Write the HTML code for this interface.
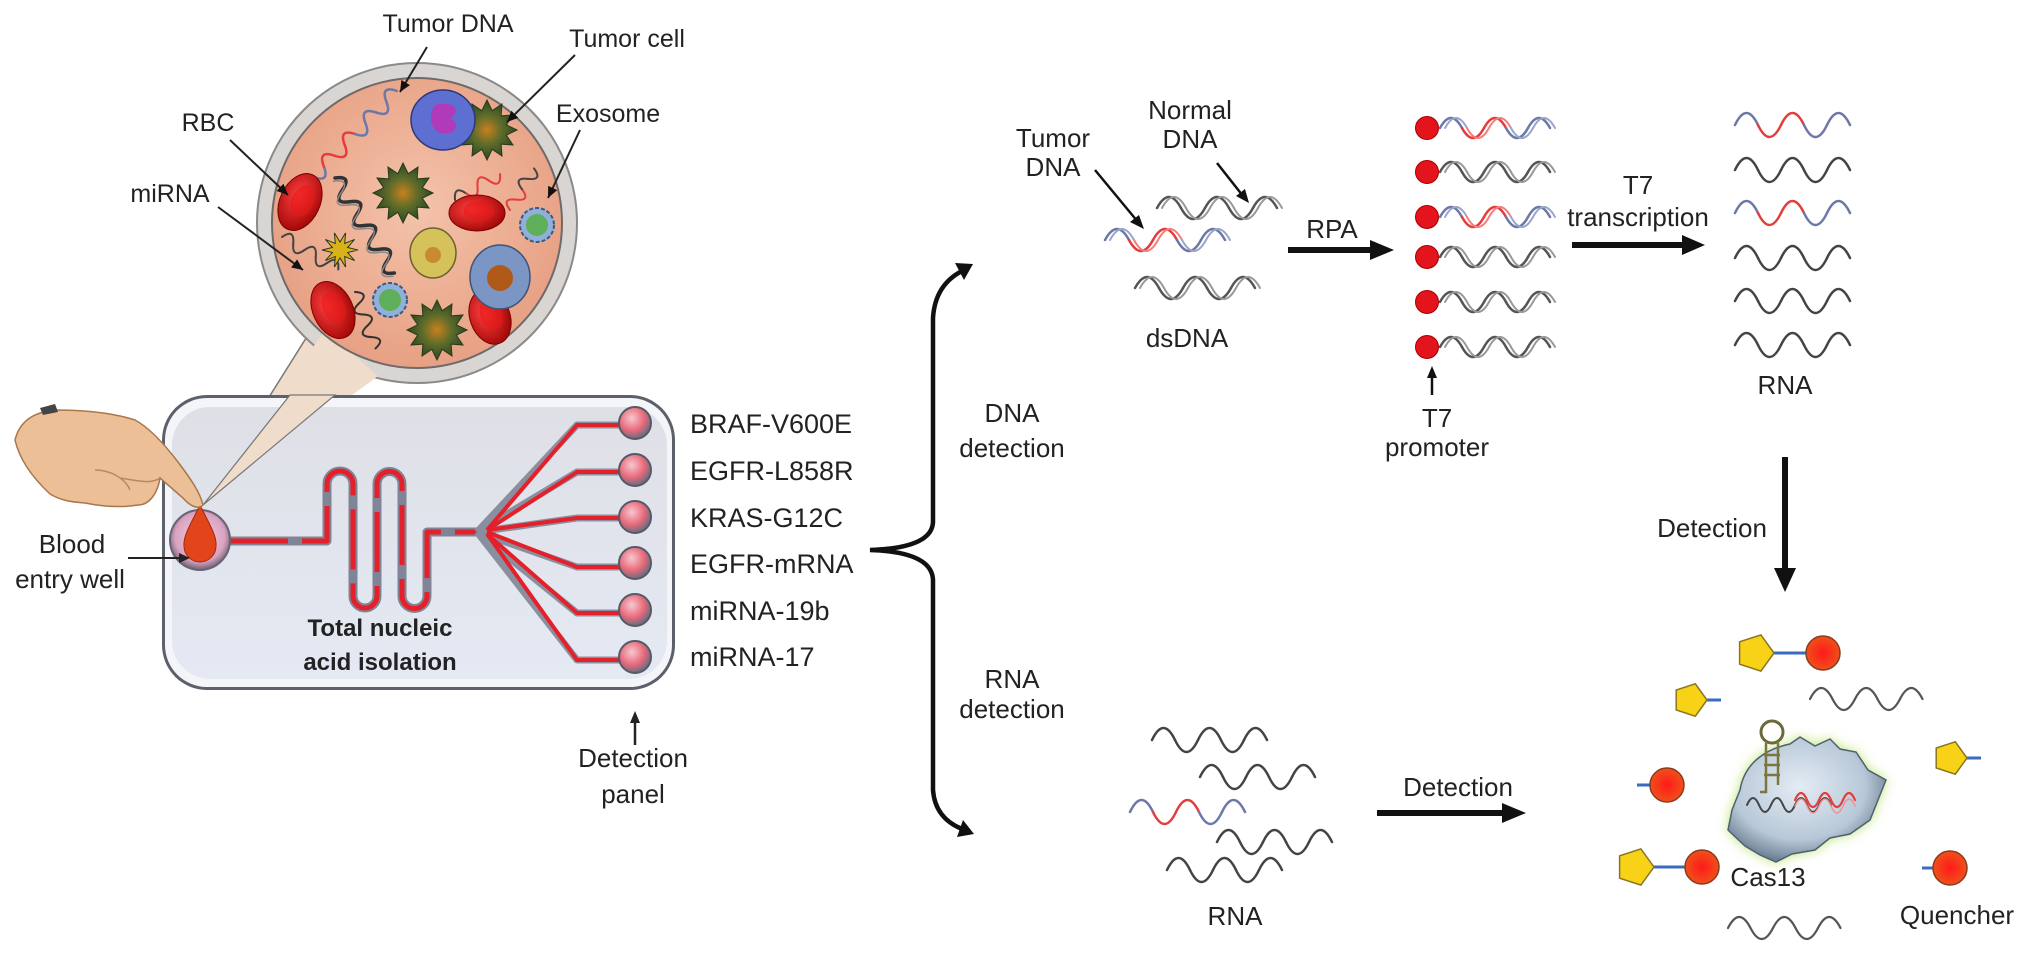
<!DOCTYPE html>
<html><head><meta charset="utf-8"><style>
html,body{margin:0;padding:0;background:#fff}
svg{display:block}
text{font-family:"Liberation Sans",Arial,sans-serif;fill:#222}
</style></head><body>
<svg id="s" xmlns="http://www.w3.org/2000/svg" width="2032" height="955" viewBox="0 0 2032 955">
<defs>
<radialGradient id="plasma" cx="50%" cy="45%" r="55%"><stop offset="0" stop-color="#f4c3ab"/><stop offset="1" stop-color="#e7a083"/></radialGradient>
<linearGradient id="chip" x1="0" y1="0" x2="0" y2="1"><stop offset="0" stop-color="#dfe0e6"/><stop offset="1" stop-color="#e4e9f3"/></linearGradient>
<radialGradient id="pink" cx="40%" cy="35%" r="65%"><stop offset="0" stop-color="#f7c7cf"/><stop offset="0.6" stop-color="#e86a7a"/><stop offset="1" stop-color="#6a6c80"/></radialGradient>
<radialGradient id="well" cx="50%" cy="45%" r="55%"><stop offset="0" stop-color="#f5cde0"/><stop offset="0.75" stop-color="#d9a3c0"/><stop offset="1" stop-color="#6b6275"/></radialGradient>
<radialGradient id="rbc" cx="40%" cy="40%" r="60%"><stop offset="0" stop-color="#ff4040"/><stop offset="1" stop-color="#a80a0a"/></radialGradient>
<radialGradient id="spk" cx="50%" cy="50%" r="50%"><stop offset="0" stop-color="#c7801e"/><stop offset="0.5" stop-color="#5d6b2a"/><stop offset="1" stop-color="#2c4a22"/></radialGradient>
<radialGradient id="qd" cx="50%" cy="50%" r="50%"><stop offset="0" stop-color="#ff1a1a"/><stop offset="1" stop-color="#f0501a"/></radialGradient>
<radialGradient id="cas" cx="45%" cy="40%" r="60%"><stop offset="0" stop-color="#e4ecf4"/><stop offset="0.7" stop-color="#b8c8d8"/><stop offset="1" stop-color="#6d8093"/></radialGradient>
<filter id="glow" x="-30%" y="-30%" width="160%" height="160%"><feGaussianBlur stdDeviation="6"/></filter>
</defs>

<!-- magnified circle + tail -->
<path d="M200,507 L330,300 L392,360 Z" fill="#f0dccb" stroke="#777" stroke-width="1.5"/>
<circle cx="417" cy="223" r="160" fill="#d9d5d2" stroke="#8a8a8a" stroke-width="2"/>
<path d="M200,507 L325,330 L378,376 Z" fill="#f0dccb"/>
<circle cx="417" cy="223" r="145" fill="url(#plasma)" stroke="#6e6a6a" stroke-width="2"/>
<g id="inner"></g>

<!-- chip -->
<rect x="162" y="395" width="513" height="295" rx="45" fill="#5c606b"/>
<rect x="165" y="398" width="507" height="289" rx="42" fill="#f4f5f8"/>
<rect x="172" y="407" width="495" height="272" rx="38" fill="url(#chip)"/>
<path d="M200,507 L273,380 L343,380 Z" fill="#f0dccb" opacity="0.0"/>
<path d="M203,505 L290,395 L335,395 Z" fill="#f0dccb" stroke="#777" stroke-width="1.2"/>

<!-- channels -->
<g fill="none" stroke-linejoin="round">
<path d="M228,541 L327,541 L327,484 A13,13 0 0 1 353,484 L353,596 A12,12 0 0 0 377,596 L377,484 A12.5,12.5 0 0 1 402,484 L402,596 A12.5,12.5 0 0 0 427,596 L427,532 L477,532" stroke="#7f8596" stroke-width="9"/>
<path d="M228,541 L327,541 L327,484 A13,13 0 0 1 353,484 L353,596 A12,12 0 0 0 377,596 L377,484 A12.5,12.5 0 0 1 402,484 L402,596 A12.5,12.5 0 0 0 427,596 L427,532 L477,532" stroke="#e4202a" stroke-width="5" stroke-dasharray="60 14"/>
<g stroke="#8a8fa0" stroke-width="7">
<path d="M477,532 L577,425 L622,425"/><path d="M477,532 L577,472 L622,472"/><path d="M477,532 L577,518 L622,518"/>
<path d="M477,532 L577,567 L622,567"/><path d="M477,532 L577,613 L622,613"/><path d="M477,532 L577,660 L622,660"/>
</g>
<g stroke="#e4202a" stroke-width="4">
<path d="M487,530 L577,425 L622,425"/><path d="M487,530 L577,472 L622,472"/><path d="M487,530 L577,518 L622,518"/>
<path d="M487,532 L577,567 L622,567"/><path d="M487,534 L577,613 L622,613"/><path d="M487,534 L577,660 L622,660"/>
</g>
</g>
<g stroke="#555a66" stroke-width="2" fill="url(#pink)">
<circle cx="635" cy="423" r="16"/><circle cx="635" cy="470" r="16"/><circle cx="635" cy="517" r="16"/>
<circle cx="635" cy="563" r="16"/><circle cx="635" cy="610" r="16"/><circle cx="635" cy="657" r="16"/>
</g>
<!-- well -->
<circle cx="200" cy="540" r="30" fill="url(#well)" stroke="#6b6275" stroke-width="2"/>
<path d="M200,505 C192,522 183,535 184,546 A16,16 0 0 0 216,546 C217,535 208,522 200,505 Z" fill="#e2451a" stroke="#a02a10" stroke-width="1"/>
<text x="300" y="636" style="font-size:24px;font-weight:bold" fill="#333" text-anchor="middle" transform="translate(80,0)">Total nucleic</text>
<text x="380" y="670" style="font-size:24px;font-weight:bold" fill="#333" text-anchor="middle">acid isolation</text>

<!-- hand -->
<path d="M15,440 C20,420 35,412 55,410 C80,410 110,412 135,420 C150,428 165,445 178,462 C190,478 200,492 203,505 C198,510 190,506 183,498 L160,478 C158,492 150,505 138,505 C120,508 100,506 85,503 C70,502 60,500 50,494 C35,480 20,462 15,440 Z" fill="#ecbf96" stroke="#a7774e" stroke-width="1.5"/>
<path d="M40,408 L55,404 L58,412 L43,415 Z" fill="#444"/>
<path d="M95,470 C110,470 125,478 130,490 M120,478 C135,480 150,485 160,478" fill="none" stroke="#b98860" stroke-width="1.5"/>
<text x="72" y="553" style="font-size:26px" text-anchor="middle">Blood</text>
<text x="70" y="588" style="font-size:26px" text-anchor="middle">entry well</text>
<path d="M128,558 L182,558" stroke="#222" stroke-width="2"/><path d="M190,558 L179,553 L179,563 Z" fill="#222"/>

<!-- chip labels -->
<g style="font-size:27px">
<text x="690" y="433">BRAF-V600E</text><text x="690" y="480">EGFR-L858R</text><text x="690" y="527">KRAS-G12C</text>
<text x="690" y="573">EGFR-mRNA</text><text x="690" y="620">miRNA-19b</text><text x="690" y="666">miRNA-17</text>
</g>
<path d="M635,745 L635,720" stroke="#222" stroke-width="2.5"/><path d="M635,711 L630,723 L640,723 Z" fill="#222"/>
<text x="633" y="767" style="font-size:26px" text-anchor="middle">Detection</text>
<text x="633" y="803" style="font-size:26px" text-anchor="middle">panel</text>

<!-- circle labels -->
<g style="font-size:25px">
<text x="448" y="32" text-anchor="middle">Tumor DNA</text>
<text x="627" y="47" text-anchor="middle">Tumor cell</text>
<text x="208" y="131" text-anchor="middle">RBC</text>
<text x="170" y="202" text-anchor="middle">miRNA</text>
<text x="608" y="122" text-anchor="middle">Exosome</text>
</g>

<!-- brace -->
<path d="M962,271 Q935,285 933,318 L933,522 Q932,548 870,550 Q932,552 933,580 L933,790 Q935,818 962,829" fill="none" stroke="#111" stroke-width="4.5"/>
<path d="M973,264 L955,263 L964,280 Z" fill="#111"/>
<path d="M974,834 L957,837 L963,820 Z" fill="#111"/>
<g style="font-size:26px" text-anchor="middle">
<text x="1012" y="422">DNA</text><text x="1012" y="457">detection</text>
<text x="1012" y="688">RNA</text><text x="1012" y="718">detection</text>
<text x="1053" y="147">Tumor</text><text x="1053" y="176">DNA</text>
<text x="1190" y="119">Normal</text><text x="1190" y="148">DNA</text>
<text x="1187" y="347">dsDNA</text>
<text x="1332" y="238">RPA</text>
<text x="1437" y="427">T7</text><text x="1437" y="456">promoter</text>
<text x="1638" y="194">T7</text><text x="1638" y="226">transcription</text>
<text x="1785" y="394">RNA</text>
<text x="1712" y="537">Detection</text>
<text x="1458" y="796">Detection</text>
<text x="1235" y="925">RNA</text>
<text x="1768" y="886">Cas13</text>
<text x="1957" y="924">Quencher</text>
</g>
<!-- arrows -->
<g stroke="#111" fill="none">
<path d="M1095,170 L1138,222" stroke-width="2.5"/><path d="M1217,163 L1243,196" stroke-width="2.5"/>
<path d="M1288,250 L1372,250" stroke-width="6"/>
<path d="M1572,245 L1685,245" stroke-width="6"/>
<path d="M1785,457 L1785,572" stroke-width="6"/>
<path d="M1377,813 L1505,813" stroke-width="6"/>
<path d="M1432,395 L1432,375" stroke-width="2.5"/>
</g>
<g fill="#111">
<path d="M1144,229 L1130,222 L1139,215 Z"/><path d="M1249,203 L1236,196 L1245,189 Z"/>
<path d="M1394,250 L1370,240 L1370,260 Z"/><path d="M1705,245 L1682,235 L1682,255 Z"/>
<path d="M1785,592 L1774,568 L1796,568 Z"/><path d="M1526,813 L1502,803 L1502,823 Z"/>
<path d="M1432,366 L1427,378 L1437,378 Z"/>
</g>

<!-- Cas13 -->
<g id="casg">
<path d="M1740,790 C1745,760 1770,748 1790,744 L1800,737 L1815,746 L1830,739 L1840,749 L1856,752 L1868,770 L1886,780 L1878,800 L1870,820 L1850,834 L1830,838 L1815,850 L1792,854 L1776,862 L1760,855 L1745,846 L1728,830 L1732,810 Z" fill="#b7e36a" filter="url(#glow)"/>
<path d="M1740,790 C1745,760 1770,748 1790,744 L1800,737 L1815,746 L1830,739 L1840,749 L1856,752 L1868,770 L1886,780 L1878,800 L1870,820 L1850,834 L1830,838 L1815,850 L1792,854 L1776,862 L1760,855 L1745,846 L1728,830 L1732,810 Z" fill="url(#cas)" stroke="#4f6070" stroke-width="1.5"/>
<circle cx="1772" cy="732" r="11" fill="none" stroke="#6b6a3a" stroke-width="3"/>
<path d="M1766,743 L1766,792 L1760,792 M1778,743 L1778,785 M1764,755 L1780,755 M1764,765 L1780,765 M1764,775 L1780,775" fill="none" stroke="#7a7640" stroke-width="2.5"/>
</g>
<g id="waves"></g>
</svg>
<script>
const NS="http://www.w3.org/2000/svg";
const S=document.getElementById('s');
function el(t,a,p){const e=document.createElementNS(NS,t);for(const k in a)e.setAttribute(k,a[k]);(p||S).appendChild(e);return e;}
// wave made of half-periods; cols array per half
function wave(x0,y,n,P,A,cols,sw,p,startDown){
  for(let i=0;i<n;i++){const s=((i%2==0)!==(!!startDown))?-1:1;const c=cols[i%cols.length];
    el('path',{d:`M${x0+i*P/2},${y} q${P/4},${s*2*A} ${P/2},0`,fill:'none',stroke:c,'stroke-width':sw,'stroke-linecap':'round'},p);}
}
function ds(x0,y,n,P,A,cols,p){wave(x0,y,n,P,A,cols.map(c=>c=='k'?'#555':c),2.5,p);wave(x0+5,y,n,P,A,cols.map(c=>c=='k'?'#999':c=='#e53c3c'?'#f08080':'#9aa6c8'),2,p);}
const B='#6d78a8',R='#e53c3c',K='#444';
// dsDNA
ds(1105,240,5,48,11,[B,R,R,B,B]);
ds(1157,208,5,48,11,['k']);
ds(1135,288,5,48,11,['k']);
// T7 column
const ty=[128,172,217,257,302,347];
ty.forEach((y,i)=>{const col=(i==0||i==2)?[B,R,R,B,B]:['k'];ds(1440,y,5,44,10,col);
  el('circle',{cx:1427,cy:y,r:11.5,fill:'#e3141b',stroke:'#a00',"stroke-width":1});});
// RNA right
[125,170,213,258,301,345].forEach((y,i)=>{wave(1735,y,5,46,12,(i==0||i==2)?[B,R,R,B,B]:[K],2.5);});
// RNA bottom
wave(1152,740,5,46,12,[K],2.5);wave(1200,777,5,46,12,[K],2.5);wave(1130,812,5,46,12,[B,R,R,B,B],2.5);
wave(1217,842,5,46,12,[K],2.5);wave(1167,870,5,46,12,[K],2.5);
// Cas waves
wave(1810,699,5,45,11,['#555'],2.2);wave(1728,928,5,45,11,['#555'],2.2);
wave(1747,805,7,24,7,['#444'],2);wave(1795,800,5,24,7,['#e53c3c'],2.2);wave(1795,806,5,24,7,['#f09090'],1.5);
// pentagons & quenchers
function pent(cx,cy,r,rot){let pts=[];for(let i=0;i<5;i++){const a=(rot+i*72)*Math.PI/180;pts.push((cx+r*Math.cos(a)).toFixed(1)+','+(cy+r*Math.sin(a)).toFixed(1));}
  el('polygon',{points:pts.join(' '),fill:'#f7d216',stroke:'#8a7620','stroke-width':1.5});}
function ln(x1,y1,x2,y2){el('line',{x1,y1,x2,y2,stroke:'#3a6bc0','stroke-width':3});}
function q(cx,cy){el('circle',{cx,cy,r:17,fill:'url(#qd)',stroke:'#8a3a20','stroke-width':1.5});}
ln(1770,653,1810,653);pent(1755,653,19,0);q(1823,653);
ln(1700,700,1721,700);pent(1690,700,17,0);
ln(1637,785,1655,785);q(1667,785);
ln(1960,758,1981,758);pent(1950,758,17,0);
ln(1650,867,1690,867);pent(1635,867,19,0);q(1702,867);
ln(1922,868,1936,868);q(1950,868);
// inner circle contents
const G=document.getElementById('inner');
function star(cx,cy,r1,r2,n,fill){let pts=[];for(let i=0;i<2*n;i++){const r=i%2?r2:r1;const a=i*Math.PI/n;pts.push((cx+r*Math.cos(a)).toFixed(1)+','+(cy+r*Math.sin(a)).toFixed(1));}
  el('polygon',{points:pts.join(' '),fill:fill,stroke:'#2a3a1a','stroke-width':1},G);}
function rbc(cx,cy,rx,ry,rot){el('ellipse',{cx,cy,rx,ry,fill:'url(#rbc)',stroke:'#7a0000','stroke-width':1,transform:`rotate(${rot} ${cx} ${cy})`},G);
  el('ellipse',{cx:cx+2,cy:cy-2,rx:rx*0.55,ry:ry*0.55,fill:'#e81818',opacity:0.6,transform:`rotate(${rot} ${cx} ${cy})`},G);}
function exo(cx,cy){el('circle',{cx,cy,r:17,fill:'#8fb0d8',stroke:'#3a5a8a','stroke-width':2,'stroke-dasharray':'4 2'},G);el('circle',{cx,cy,r:11,fill:'#5fae5a'},G);}
// strands
const g1=el('g',{transform:'translate(303,188) rotate(-46)'},G);wave(0,0,9,30,8,[B,B,R,R,R,B,B,B,B],2.5,g1);
const g2=el('g',{transform:'translate(335,178) rotate(58)'},G);wave(0,0,8,28,8,['#333'],3.5,g2);wave(2,3,8,28,8,['#888'],1.5,g2);
const g3=el('g',{transform:'translate(282,237) rotate(30)'},G);wave(0,0,5,26,7,['#444'],2,g3);
const g4=el('g',{transform:'translate(455,200) rotate(-30)'},G);wave(0,0,4,26,7,['#444',R,R,R],2,g4);
const g5=el('g',{transform:'translate(510,210) rotate(-60)'},G);wave(0,0,4,24,7,[R,R,'#444','#444'],2,g5);
const g6=el('g',{transform:'translate(355,292) rotate(70)'},G);wave(0,0,5,24,7,['#333'],2,g6);
star(487,130,30,20,12,'url(#spk)');
el('ellipse',{cx:443,cy:120,rx:32,ry:30,fill:'#5d6fd0',stroke:'#2c3a7a','stroke-width':1.5},G);
el('path',{d:'M435,105 C455,100 462,112 450,118 C462,124 455,138 438,132 C428,125 430,112 435,105 Z',fill:'#b03ab8'},G);
star(403,193,30,20,12,'url(#spk)');
star(437,330,30,20,12,'url(#spk)');
star(340,250,18,8,10,'#d9b21a');
el('ellipse',{cx:433,cy:253,rx:23,ry:25,fill:'#d6c25a',stroke:'#6a6030','stroke-width':1.5},G);el('circle',{cx:433,cy:255,r:8,fill:'#c88b30'},G);
rbc(300,202,20,30,25);rbc(477,213,28,18,0);rbc(333,310,20,30,-25);rbc(490,317,20,28,-20);
el('ellipse',{cx:500,cy:277,rx:30,ry:32,fill:'#7b95c4',stroke:'#3e5278','stroke-width':1.5},G);el('circle',{cx:500,cy:278,r:13,fill:'#b05a1a'},G);
exo(537,225);exo(390,300);
// label arrows
function arr(x1,y1,x2,y2){el('line',{x1,y1,x2,y2,stroke:'#222','stroke-width':2});const a=Math.atan2(y2-y1,x2-x1);
  const p=[[x2,y2],[x2-11*Math.cos(a)+5*Math.sin(a),y2-11*Math.sin(a)-5*Math.cos(a)],[x2-11*Math.cos(a)-5*Math.sin(a),y2-11*Math.sin(a)+5*Math.cos(a)]];
  el('polygon',{points:p.map(v=>v.join(',')).join(' '),fill:'#111'});}
arr(427,47,400,92);arr(575,55,507,122);arr(230,140,288,195);arr(218,207,303,270);arr(580,130,548,198);
</script>
</body></html>
